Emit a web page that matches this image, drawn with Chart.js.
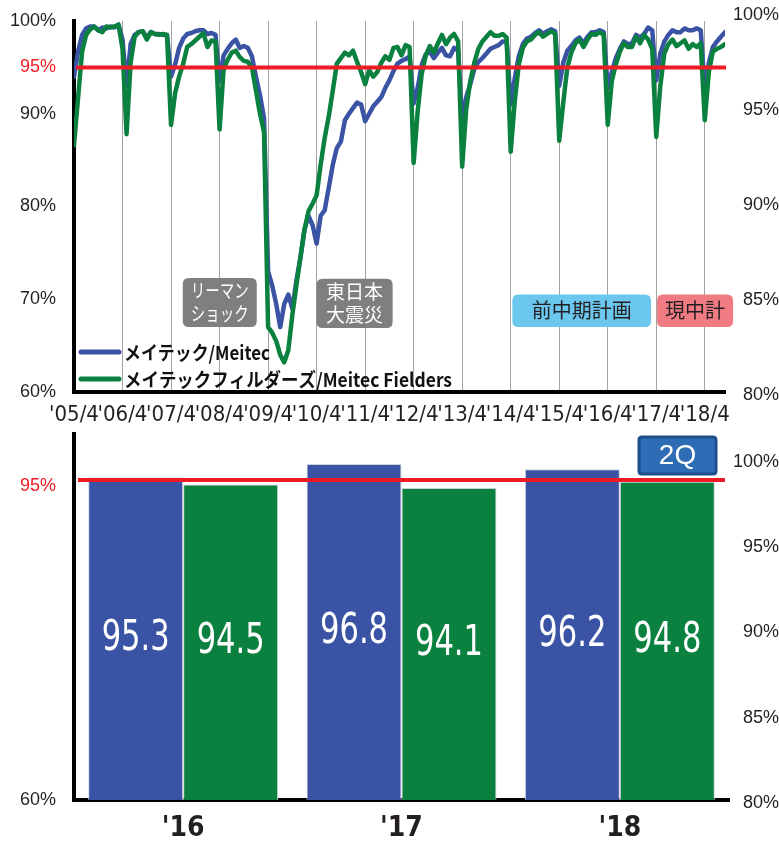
<!DOCTYPE html>
<html lang="ja">
<head>
<meta charset="utf-8">
<title>稼働率</title>
<script src="https://cdn.jsdelivr.net/npm/chart.js@4.4.1/dist/chart.umd.min.js"></script>
<style>
    html, body { margin: 0; padding: 0; background: #fff; overflow: hidden; }
    #div_grafico_linhas { position: absolute; left: 0; top: 0; width: 779px; height: 430px; }
    #div_grafico_barras { position: absolute; left: 0; top: 430px; width: 779px; height: 413px; }
</style>
</head>
<body>
<div id="div_grafico_linhas"><canvas id="canvas_linhas"></canvas></div>
<div id="div_grafico_barras"><canvas id="canvas_barras"></canvas></div>
<script>
// DADOS - taxa de utilização mensal, '05/4 até '18/9 (uma linha por ano fiscal)
var rotulosAnos = ["'05/4", "'06/4", "'07/4", "'08/4", "'09/4", "'10/4", "'11/4", "'12/4", "'13/4", "'14/4", "'15/4", "'16/4", "'17/4", "'18/4"]

var meitec = [
    94.0, 96.7, 98.5, 99.2, 99.4, 99.4, 99.0, 99.3, 99.2, 99.4, 99.3, 99.6,
    98.0, 93.0, 97.5, 98.5, 98.8, 98.9, 98.2, 98.8, 98.6, 98.6, 98.5, 98.5,
    94.0, 95.3, 97.1, 98.1, 98.6, 98.7, 98.9, 99.0, 99.0, 98.6, 98.7, 98.5,
    93.5, 96.3, 97.0, 97.6, 98.0, 97.1, 97.3, 97.1, 96.2, 94.0, 92.0, 89.5,
    73.0, 71.5, 69.5, 67.0, 69.5, 70.5, 69.0, 72.0, 74.5, 77.5, 79.0, 78.0,
    76.0, 79.0, 79.6, 82.0, 84.5, 86.3, 87.0, 89.3, 90.0, 90.6, 91.2, 91.0,
    89.2, 90.0, 90.8, 91.3, 91.8, 92.8, 93.6, 94.6, 95.4, 95.7, 95.9, 96.2,
    91.1, 92.8, 95.3, 96.4, 96.7, 96.0, 96.6, 97.1, 96.3, 96.2, 97.1, 96.8,
    89.1, 91.8, 93.2, 94.8, 95.6, 96.0, 96.5, 97.0, 97.2, 97.4, 97.8, 97.8,
    91.0, 93.8, 96.2, 97.5, 98.1, 98.3, 98.7, 99.0, 98.6, 98.9, 99.1, 98.9,
    93.0, 95.5, 96.8, 97.3, 97.9, 98.2, 97.6, 98.3, 98.8, 98.8, 99.0, 98.8,
    92.8, 94.5, 96.0, 97.0, 97.8, 97.5, 97.6, 98.5, 98.2, 98.6, 99.3, 99.0,
    93.6, 96.5, 97.8, 98.5, 99.0, 98.8, 98.8, 99.2, 99.0, 99.0, 99.2, 99.0,
    92.5, 95.5, 97.2, 97.8, 98.3, 98.8
]

var fielders = [
    86.6, 91.7, 96.7, 98.5, 99.1, 99.4, 99.0, 98.8, 99.4, 99.3, 99.4, 99.6,
    97.0, 87.8, 95.5, 98.3, 98.8, 98.9, 98.0, 98.8, 98.6, 98.5, 98.6, 98.5,
    88.8, 92.2, 94.0, 95.4, 97.2, 97.5, 97.9, 98.3, 98.7, 97.2, 97.9, 97.8,
    88.3, 94.8, 95.8, 96.6, 96.8, 96.1, 95.7, 95.6, 95.0, 92.5, 90.0, 88.0,
    67.0, 66.4, 65.5, 64.0, 63.2, 64.5, 68.3, 71.5, 74.5, 77.5, 79.5, 80.3,
    81.2, 84.5, 87.4, 89.7, 92.5, 95.4, 96.0, 96.6, 96.3, 96.8, 95.6, 94.5,
    93.2, 94.7, 94.0, 94.5, 95.5, 96.2, 95.8, 97.1, 97.2, 96.3, 97.4, 97.2,
    84.7, 90.3, 94.3, 96.3, 97.3, 96.6, 97.6, 98.5, 97.5, 98.2, 98.6, 97.8,
    84.3, 90.5, 93.5, 95.5, 97.0, 97.8, 98.3, 98.8, 98.4, 98.4, 98.6, 98.2,
    85.9, 91.3, 95.3, 97.1, 97.8, 98.0, 98.5, 98.8, 98.3, 98.6, 98.9, 98.6,
    87.1, 91.2, 95.0, 96.6, 97.6, 98.0, 97.2, 98.0, 98.6, 98.5, 98.8, 98.5,
    88.8, 93.5, 95.3, 96.7, 97.6, 97.2, 97.2, 98.3, 97.6, 98.5, 98.0, 97.0,
    87.5, 93.0, 96.5, 97.5, 98.0, 97.3, 97.6, 97.9, 97.0, 97.5, 97.2, 97.6,
    89.3, 94.5, 96.7, 97.0, 97.2, 97.5
]

var ticksEsquerdaTopo = [60, 70, 80, 90, 95, 100]
var ticksDireitaTopo = [80, 85, 90, 95, 100]

// DADOS - média do 2Q
var anosBarras = ["'16", "'17", "'18"]
var barrasMeitec = [95.3, 96.8, 96.2]
var barrasFielders = [94.5, 94.1, 94.8]
var ticksEsquerdaBarras = [60, 95]
var ticksDireitaBarras = [80, 85, 90, 95, 100]

var meta = 95

var corMeitec = '#3A53A4'
var corFielders = '#0B8140'
var vermelho = '#ED1C24'
var corTexto = '#231F20'
var fonteNarrow = "'Liberation Sans Narrow', 'DejaVu Sans Condensed', sans-serif"
var fonteJP = "'Noto Sans CJK JP', sans-serif"

// caixas de anotação (posição em meses / %)
var caixas = [
    { linhas: ['リーマン', 'ショック'], de: 26.9, ate: 45.2, topo: 72.3, base: 67.0, cor: '#7F7F7F', corTexto: '#fff', tamanho: 19, largura: 58 },
    { linhas: ['東日本', '大震災'], de: 60.0, ate: 78.8, topo: 72.2, base: 66.9, cor: '#7F7F7F', corTexto: '#fff', tamanho: 19, largura: 62 },
    { linhas: ['前中期計画'], de: 108.4, ate: 142.7, topo: 70.5, base: 67.0, cor: '#6CC7EF', corTexto: corTexto, tamanho: 20, largura: 110 },
    { linhas: ['現中計'], de: 144.2, ate: 163.0, topo: 70.5, base: 67.0, cor: '#F07B82', corTexto: corTexto, tamanho: 20, largura: 66 }
]

Chart.defaults.font.family = "'Liberation Sans', Arial, sans-serif"
Chart.defaults.color = corTexto

function retanguloArredondado(ctx, x, y, w, h, r) {
    ctx.beginPath()
    ctx.moveTo(x + r, y)
    ctx.lineTo(x + w - r, y)
    ctx.quadraticCurveTo(x + w, y, x + w, y + r)
    ctx.lineTo(x + w, y + h - r)
    ctx.quadraticCurveTo(x + w, y + h, x + w - r, y + h)
    ctx.lineTo(x + r, y + h)
    ctx.quadraticCurveTo(x, y + h, x, y + h - r)
    ctx.lineTo(x, y + r)
    ctx.quadraticCurveTo(x, y, x + r, y)
    ctx.closePath()
}

// sem folga extra dos rótulos no layout
function larguraFixa(largura) {
    return s => {
        s.width = largura
        s.paddingTop = 0
        s.paddingBottom = 0
    }
}

function alturaFixa(altura) {
    return s => {
        s.height = altura
        s.paddingLeft = 0
        s.paddingRight = 0
    }
}

// linha vermelha dos 95%
var linhaMeta = {
    id: 'linhaMeta',
    afterDatasetsDraw(chart, args, opcoes) {
        var ctx = chart.ctx
        var area = chart.chartArea
        var y = chart.scales[opcoes.escala].getPixelForValue(meta)
        ctx.save()
        ctx.strokeStyle = vermelho
        ctx.lineWidth = 4
        ctx.beginPath()
        ctx.moveTo(area.left + opcoes.inicio, y)
        ctx.lineTo(area.right + opcoes.fim, y)
        ctx.stroke()
        ctx.restore()
    }
}

var caixasTopo = {
    id: 'caixasTopo',
    afterDatasetsDraw(chart) {
        var ctx = chart.ctx
        var sx = chart.scales.x
        var sy = chart.scales.y
        ctx.save()
        caixas.forEach(caixa => {
            var x0 = sx.getPixelForValue(caixa.de)
            var x1 = sx.getPixelForValue(caixa.ate)
            var y0 = sy.getPixelForValue(caixa.topo)
            var y1 = sy.getPixelForValue(caixa.base)
            retanguloArredondado(ctx, x0, y0, x1 - x0, y1 - y0, 6)
            ctx.fillStyle = caixa.cor
            ctx.fill()
            ctx.fillStyle = caixa.corTexto
            ctx.font = caixa.tamanho + 'px ' + fonteJP
            ctx.textAlign = 'center'
            ctx.textBaseline = 'middle'
            var meio = (y0 + y1) / 2
            var passo = 23
            caixa.linhas.forEach((linha, i) => {
                var yl = meio + (i - (caixa.linhas.length - 1) / 2) * passo
                ctx.fillText(linha, (x0 + x1) / 2, yl, caixa.largura)
            })
        })
        ctx.restore()
    }
}

var legendaTopo = {
    id: 'legendaTopo',
    afterDatasetsDraw(chart) {
        var ctx = chart.ctx
        var area = chart.chartArea
        var itens = [
            { ds: chart.data.datasets[0], y: area.bottom - 40, largura: 146 },
            { ds: chart.data.datasets[1], y: area.bottom - 13, largura: 328 }
        ]
        ctx.save()
        itens.forEach(item => {
            ctx.strokeStyle = item.ds.borderColor
            ctx.lineWidth = 5
            ctx.lineCap = 'round'
            ctx.beginPath()
            ctx.moveTo(area.left + 7, item.y)
            ctx.lineTo(area.left + 45, item.y)
            ctx.stroke()
            ctx.fillStyle = '#111'
            ctx.font = 'bold 19px ' + fonteJP
            ctx.textAlign = 'left'
            ctx.textBaseline = 'middle'
            ctx.fillText(item.ds.label, area.left + 50, item.y + 1, item.largura)
        })
        ctx.restore()
    }
}

// números brancos dentro das barras
var valoresBarras = {
    id: 'valoresBarras',
    afterDatasetsDraw(chart) {
        var ctx = chart.ctx
        var fundo = chart.chartArea.bottom
        ctx.save()
        ctx.fillStyle = '#fff'
        ctx.font = '42px ' + fonteNarrow
        ctx.textAlign = 'center'
        ctx.textBaseline = 'middle'
        chart.data.datasets.forEach((ds, i) => {
            chart.getDatasetMeta(i).data.forEach((barra, j) => {
                ctx.fillText(ds.data[j].toFixed(1), barra.x, (barra.y + fundo) / 2, 68)
            })
        })
        ctx.restore()
    }
}

var selo2Q = {
    id: 'selo2Q',
    afterDraw(chart) {
        var ctx = chart.ctx
        var area = chart.chartArea
        var x = area.right - 90
        var y = area.top + 3
        ctx.save()
        retanguloArredondado(ctx, x, y, 77, 37, 3)
        ctx.fillStyle = '#2E6DB5'
        ctx.fill()
        ctx.lineWidth = 3
        ctx.strokeStyle = '#1B4E8A'
        ctx.stroke()
        ctx.fillStyle = '#fff'
        ctx.font = '28px ' + Chart.defaults.font.family
        ctx.textAlign = 'center'
        ctx.textBaseline = 'middle'
        ctx.fillText('2Q', x + 38.5, y + 19)
        ctx.restore()
    }
}

function corTick(ctx) {
    return ctx.tick && ctx.tick.value === meta ? vermelho : corTexto
}

// Configuração do gráfico de linhas
var configLinhas = {
    type: 'line',
    data: {
        datasets: [{
            label: 'メイテック/Meitec',
            data: meitec.map((v, i) => ({ x: i, y: v })),
            borderColor: corMeitec,
            backgroundColor: corMeitec,
            order: 2
        }, {
            label: 'メイテックフィルダーズ/Meitec Fielders',
            data: fielders.map((v, i) => ({ x: i, y: v })),
            borderColor: corFielders,
            backgroundColor: corFielders,
            order: 1
        }]
    },
    options: {
        responsive: true,
        maintainAspectRatio: false,
        animation: false,
        layout: { padding: { top: 21, left: 0, right: 0, bottom: 0 } },
        elements: {
            line: { borderWidth: 4.5, tension: 0, borderJoinStyle: 'round', borderCapStyle: 'round' },
            point: { radius: 0 }
        },
        plugins: {
            legend: { display: false },
            tooltip: { enabled: false },
            linhaMeta: { escala: 'y', inicio: 2, fim: 1 }
        },
        scales: {
            x: {
                type: 'linear',
                min: 0,
                max: meitec.length - 1,
                afterBuildTicks: s => { s.ticks = rotulosAnos.map((r, k) => ({ value: k * 12 })) },
                afterFit: alturaFixa(38),
                grid: { color: '#A3A3A3', lineWidth: 1, drawTicks: false },
                border: { display: true, color: '#000', width: 4 },
                ticks: {
                    autoSkip: false, maxRotation: 0, padding: 10,
                    font: { family: fonteNarrow, size: 22 },
                    callback: v => rotulosAnos[v / 12]
                }
            },
            y: {
                position: 'left',
                min: 60,
                max: 100,
                afterBuildTicks: s => { s.ticks = ticksEsquerdaTopo.map(v => ({ value: v })) },
                afterFit: larguraFixa(74),
                grid: { display: false, drawTicks: false },
                border: { display: true, color: '#000', width: 4 },
                ticks: { padding: 18, font: { size: 18 }, color: corTick, callback: v => v + '%' }
            },
            y2: {
                position: 'right',
                min: 80.16,
                max: 99.68,
                afterBuildTicks: s => { s.ticks = ticksDireitaTopo.map(v => ({ value: v })) },
                afterFit: larguraFixa(54),
                grid: { display: false, drawTicks: false },
                border: { display: false },
                ticks: { crossAlign: 'far', padding: 12, font: { size: 18 }, callback: v => v + '%' }
            }
        }
    },
    plugins: [caixasTopo, legendaTopo, linhaMeta]
}

// Configuração do gráfico de barras (2Q)
var configBarras = {
    type: 'bar',
    data: {
        labels: anosBarras,
        datasets: [{
            label: 'メイテック/Meitec',
            data: barrasMeitec,
            backgroundColor: corMeitec,
            yAxisID: 'yB'
        }, {
            label: 'メイテックフィルダーズ/Meitec Fielders',
            data: barrasFielders,
            backgroundColor: corFielders,
            yAxisID: 'yB'
        }]
    },
    options: {
        responsive: true,
        maintainAspectRatio: false,
        animation: false,
        layout: { padding: { top: 4, left: 0, right: 0, bottom: 0 } },
        datasets: {
            bar: { categoryPercentage: 0.87, barPercentage: 1.0, borderWidth: 1, borderColor: '#cfd3dc' }
        },
        plugins: {
            legend: { display: false },
            tooltip: { enabled: false },
            linhaMeta: { escala: 'yB', inicio: 4, fim: -4 }
        },
        scales: {
            x: {
                afterFit: alturaFixa(43),
                grid: { display: false, drawTicks: false },
                border: { display: true, color: '#000', width: 4 },
                ticks: { padding: 12, font: { family: fonteNarrow, size: 28, weight: 'bold' } }
            },
            yL: {
                position: 'left',
                min: 60,
                max: 100.8,
                afterBuildTicks: s => { s.ticks = ticksEsquerdaBarras.map(v => ({ value: v })) },
                afterFit: larguraFixa(74),
                grid: { display: false, drawTicks: false },
                border: { display: true, color: '#000', width: 4 },
                ticks: { padding: 18, font: { size: 18 }, color: corTick, callback: v => v + '%' }
            },
            yB: {
                display: false,
                min: 59.04,
                max: 100.17
            },
            yR: {
                position: 'right',
                min: 80.18,
                max: 101.64,
                afterBuildTicks: s => { s.ticks = ticksDireitaBarras.map(v => ({ value: v })) },
                afterFit: larguraFixa(50),
                grid: { display: false, drawTicks: false },
                border: { display: false },
                ticks: { crossAlign: 'far', padding: 8, font: { size: 18 }, callback: v => v + '%' }
            }
        }
    },
    plugins: [valoresBarras, linhaMeta, selo2Q]
}

new Chart(document.getElementById('canvas_linhas'), configLinhas)
new Chart(document.getElementById('canvas_barras'), configBarras)
</script>
</body>
</html>
